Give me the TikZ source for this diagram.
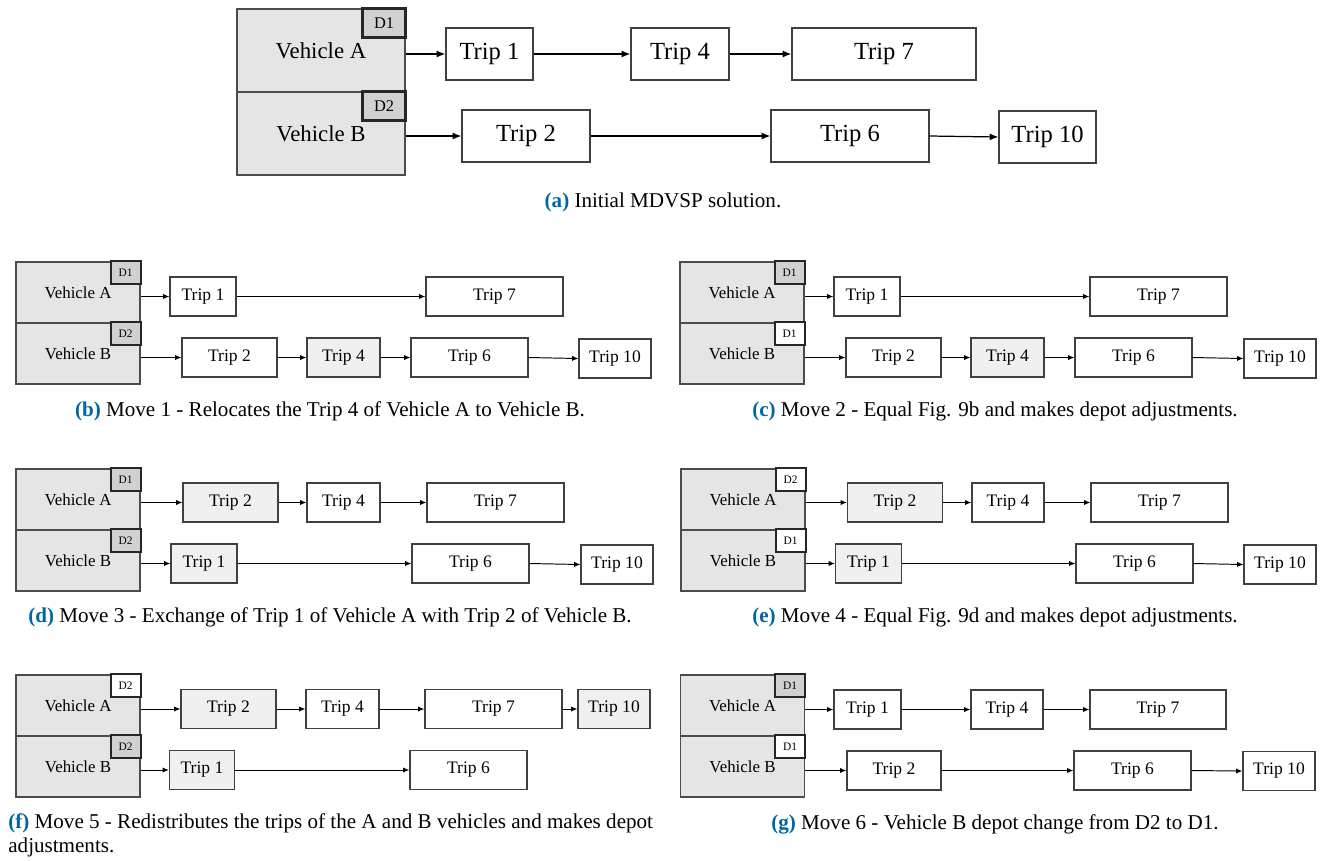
\documentclass[tikz,border=0pt]{standalone}
\usepackage{fontspec}
\setmainfont{Liberation Serif}
\usetikzlibrary{arrows.meta}
\definecolor{vehgray}{gray}{0.9}
\definecolor{depgray}{gray}{0.82}
\definecolor{tripgray}{gray}{0.94}
\definecolor{capblue}{RGB}{0,101,163}
\newcommand{\pu}{0.02cm}
\newcommand{\sublabel}[1]{\textcolor{capblue}{\textbf{(#1)}}}
\tikzset{
  veh/.style={draw=black!70, fill=vehgray, line width=0.7pt, inner sep=0pt, minimum width=124*\pu, minimum height=61*\pu, font=\fontsize{9.6}{11}\selectfont},
  bigveh/.style={veh, minimum width=168*\pu, minimum height=83*\pu, font=\fontsize{13}{14}\selectfont},
  depot/.style={draw=black!85, fill=depgray, line width=1.1pt, inner sep=0pt, outer sep=0pt, anchor=north east, minimum width=30*\pu, minimum height=23*\pu, font=\fontsize{6.5}{7}\selectfont},
  newdepot/.style={depot, fill=white},
  bigdepot/.style={depot, line width=1.6pt, minimum width=43*\pu, minimum height=29*\pu, font=\fontsize{9.3}{10}\selectfont},
  trip/.style={draw=black!75, fill=white, line width=0.7pt, inner sep=0pt, minimum height=39*\pu, minimum width=#1*\pu, font=\fontsize{10}{12}\selectfont},
  moved/.style={trip=#1, fill=tripgray},
  bigtrip/.style={trip=#1, minimum height=52*\pu, font=\fontsize{14}{16}\selectfont},
  link/.style={-{Latex[length=3.6pt,width=3pt]}, line width=0.55pt},
  biglink/.style={-{Latex[length=5pt,width=4pt]}, line width=0.7pt},
  caption/.style={font=\fontsize{12}{13.7}\selectfont, inner sep=0pt}
}
\begin{document}
\begin{tikzpicture}[x=\pu,y=-\pu]
\useasboundingbox (0,0) rectangle (1327,860);

\node [bigveh, name=aA] at (321,50.5) {Vehicle A};
\node [bigveh, name=aB] at (321,133.5) {Vehicle B};
\node [bigdepot, name=aDA] at (aA.north east) {D1};
\node [bigdepot, name=aDB] at (aB.north east) {D2};
\node [bigtrip=87, name=a1] at (489.5,54) {Trip 1};
\node [bigtrip=98, name=a4] at (680,54) {Trip 4};
\node [bigtrip=184, name=a7] at (884,54) {Trip 7};
\node [bigtrip=128, name=a2] at (526,136) {Trip 2};
\node [bigtrip=158, name=a6] at (850,136) {Trip 6};
\node [bigtrip=97, name=a10] at (1047.5,137) {Trip 10};
\draw [biglink] (aA.east |- a1) -- (a1);
\draw [biglink] (a1) -- (a4);
\draw [biglink] (a4) -- (a7);
\draw [biglink] (aB.east |- a2) -- (a2);
\draw [biglink] (a2) -- (a6);
\draw [biglink] (a6.east) -- (a10.west);
\node [caption, name=capa] at (663,202) {\sublabel{a} Initial MDVSP solution.};

\node [veh, name=bA] at (78,292.5) {Vehicle A};
\node [veh, name=bB] at (78,353.5) {Vehicle B};
\node [depot, name=bDA] at (bA.north east) {D1};
\node [depot, name=bDB] at (bB.north east) {D2};
\node [trip=66, name=b1] at (203,296.5) {Trip 1};
\node [trip=137, name=b7] at (494.5,296.5) {Trip 7};
\node [trip=95, name=b2] at (229.5,357.5) {Trip 2};
\node [moved=73, name=b4] at (343.5,357.5) {Trip 4};
\node [trip=117, name=b6] at (469.5,357.5) {Trip 6};
\node [trip=72, name=b10] at (615,358.5) {Trip 10};
\draw [link] (bA.east |- b1) -- (b1);
\draw [link] (b1) -- (b7);
\draw [link] (bB.east |- b2) -- (b2);
\draw [link] (b2) -- (b4);
\draw [link] (b4) -- (b6);
\draw [link] (b6.east) -- (b10.west);
\node [caption, name=capb] at (330,411) {\sublabel{b} Move 1 - Relocates the Trip 4 of Vehicle A to Vehicle B.};

\node [veh, name=cA] at (742,292.5) {Vehicle A};
\node [veh, name=cB] at (742,353.5) {Vehicle B};
\node [depot, name=cDA] at (cA.north east) {D1};
\node [newdepot, name=cDB] at (cB.north east) {D1};
\node [trip=66, name=c1] at (867,296.5) {Trip 1};
\node [trip=137, name=c7] at (1158.5,296.5) {Trip 7};
\node [trip=95, name=c2] at (893.5,357.5) {Trip 2};
\node [moved=73, name=c4] at (1007.5,357.5) {Trip 4};
\node [trip=117, name=c6] at (1133.5,357.5) {Trip 6};
\node [trip=72, name=c10] at (1280,358.5) {Trip 10};
\draw [link] (cA.east |- c1) -- (c1);
\draw [link] (c1) -- (c7);
\draw [link] (cB.east |- c2) -- (c2);
\draw [link] (c2) -- (c4);
\draw [link] (c4) -- (c6);
\draw [link] (c6.east) -- (c10.west);
\node [caption, name=capc] at (995,411) {\sublabel{c} Move 2 - Equal Fig. 9b and makes depot adjustments.};

\node [veh, name=dA] at (78,499.5) {Vehicle A};
\node [veh, name=dB] at (78,560.5) {Vehicle B};
\node [depot, name=dDA] at (dA.north east) {D1};
\node [depot, name=dDB] at (dB.north east) {D2};
\node [moved=95, name=d2] at (230.5,502.5) {Trip 2};
\node [trip=73, name=d4] at (343.5,502.5) {Trip 4};
\node [trip=137, name=d7] at (495.5,502.5) {Trip 7};
\node [moved=66, name=d1] at (204,563.5) {Trip 1};
\node [trip=117, name=d6] at (470.5,563.5) {Trip 6};
\node [trip=72, name=d10] at (617,564.5) {Trip 10};
\draw [link] (dA.east |- d2) -- (d2);
\draw [link] (d2) -- (d4);
\draw [link] (d4) -- (d7);
\draw [link] (dB.east |- d1) -- (d1);
\draw [link] (d1) -- (d6);
\draw [link] (d6.east) -- (d10.west);
\node [caption, name=capd] at (330,617) {\sublabel{d} Move 3 - Exchange of Trip 1 of Vehicle A with Trip 2 of Vehicle B.};

\node [veh, name=eA] at (743,499.5) {Vehicle A};
\node [veh, name=eB] at (743,560.5) {Vehicle B};
\node [newdepot, name=eDA] at (eA.north east) {D2};
\node [newdepot, name=eDB] at (eB.north east) {D1};
\node [moved=95, name=e2] at (895,502.5) {Trip 2};
\node [trip=72, name=e4] at (1008,502.5) {Trip 4};
\node [trip=137, name=e7] at (1159.5,502.5) {Trip 7};
\node [moved=66, name=e1] at (868.5,563.5) {Trip 1};
\node [trip=117, name=e6] at (1134.5,563.5) {Trip 6};
\node [trip=72, name=e10] at (1280,564.5) {Trip 10};
\draw [link] (eA.east |- e2) -- (e2);
\draw [link] (e2) -- (e4);
\draw [link] (e4) -- (e7);
\draw [link] (eB.east |- e1) -- (e1);
\draw [link] (e1) -- (e6);
\draw [link] (e6.east) -- (e10.west);
\node [caption, name=cape] at (995,617) {\sublabel{e} Move 4 - Equal Fig. 9d and makes depot adjustments.};

\node [veh, name=fA] at (78,705.5) {Vehicle A};
\node [veh, name=fB] at (78,766.5) {Vehicle B};
\node [newdepot, name=fDA] at (fA.north east) {D2};
\node [depot, name=fDB] at (fB.north east) {D2};
\node [moved=95, name=f2] at (228.5,709) {Trip 2};
\node [trip=73, name=f4] at (342.5,709) {Trip 4};
\node [trip=137, name=f7] at (493.5,709) {Trip 7};
\node [moved=72, name=f10] at (614,709) {Trip 10};
\node [moved=65, name=f1] at (202,770) {Trip 1};
\node [trip=117, name=f6] at (468.5,770) {Trip 6};
\draw [link] (fA.east |- f2) -- (f2);
\draw [link] (f2) -- (f4);
\draw [link] (f4) -- (f7);
\draw [link] (f7) -- (f10);
\draw [link] (fB.east |- f1) -- (f1);
\draw [link] (f1) -- (f6);
\node [caption, name=capf, anchor=north west, align=left] at (8,813) {\sublabel{f} Move 5 - Redistributes the trips of the A and B vehicles and makes depot\\adjustments.};

\node [veh, name=gA] at (742.5,705.5) {Vehicle A};
\node [veh, name=gB] at (742.5,766.5) {Vehicle B};
\node [depot, name=gDA] at (gA.north east) {D1};
\node [newdepot, name=gDB] at (gB.north east) {D1};
\node [trip=67, name=g1] at (867.5,709.5) {Trip 1};
\node [trip=72, name=g4] at (1007,709.5) {Trip 4};
\node [trip=136, name=g7] at (1158,709.5) {Trip 7};
\node [trip=94, name=g2] at (894,770.5) {Trip 2};
\node [trip=117, name=g6] at (1132.5,770.5) {Trip 6};
\node [trip=72, name=g10] at (1279,771) {Trip 10};
\draw [link] (gA.east |- g1) -- (g1);
\draw [link] (g1) -- (g4);
\draw [link] (g4) -- (g7);
\draw [link] (gB.east |- g2) -- (g2);
\draw [link] (g2) -- (g6);
\draw [link] (g6.east) -- (g10.west);
\node [caption, name=capg] at (995,824) {\sublabel{g} Move 6 - Vehicle B depot change from D2 to D1.};
\end{tikzpicture}
\end{document}
